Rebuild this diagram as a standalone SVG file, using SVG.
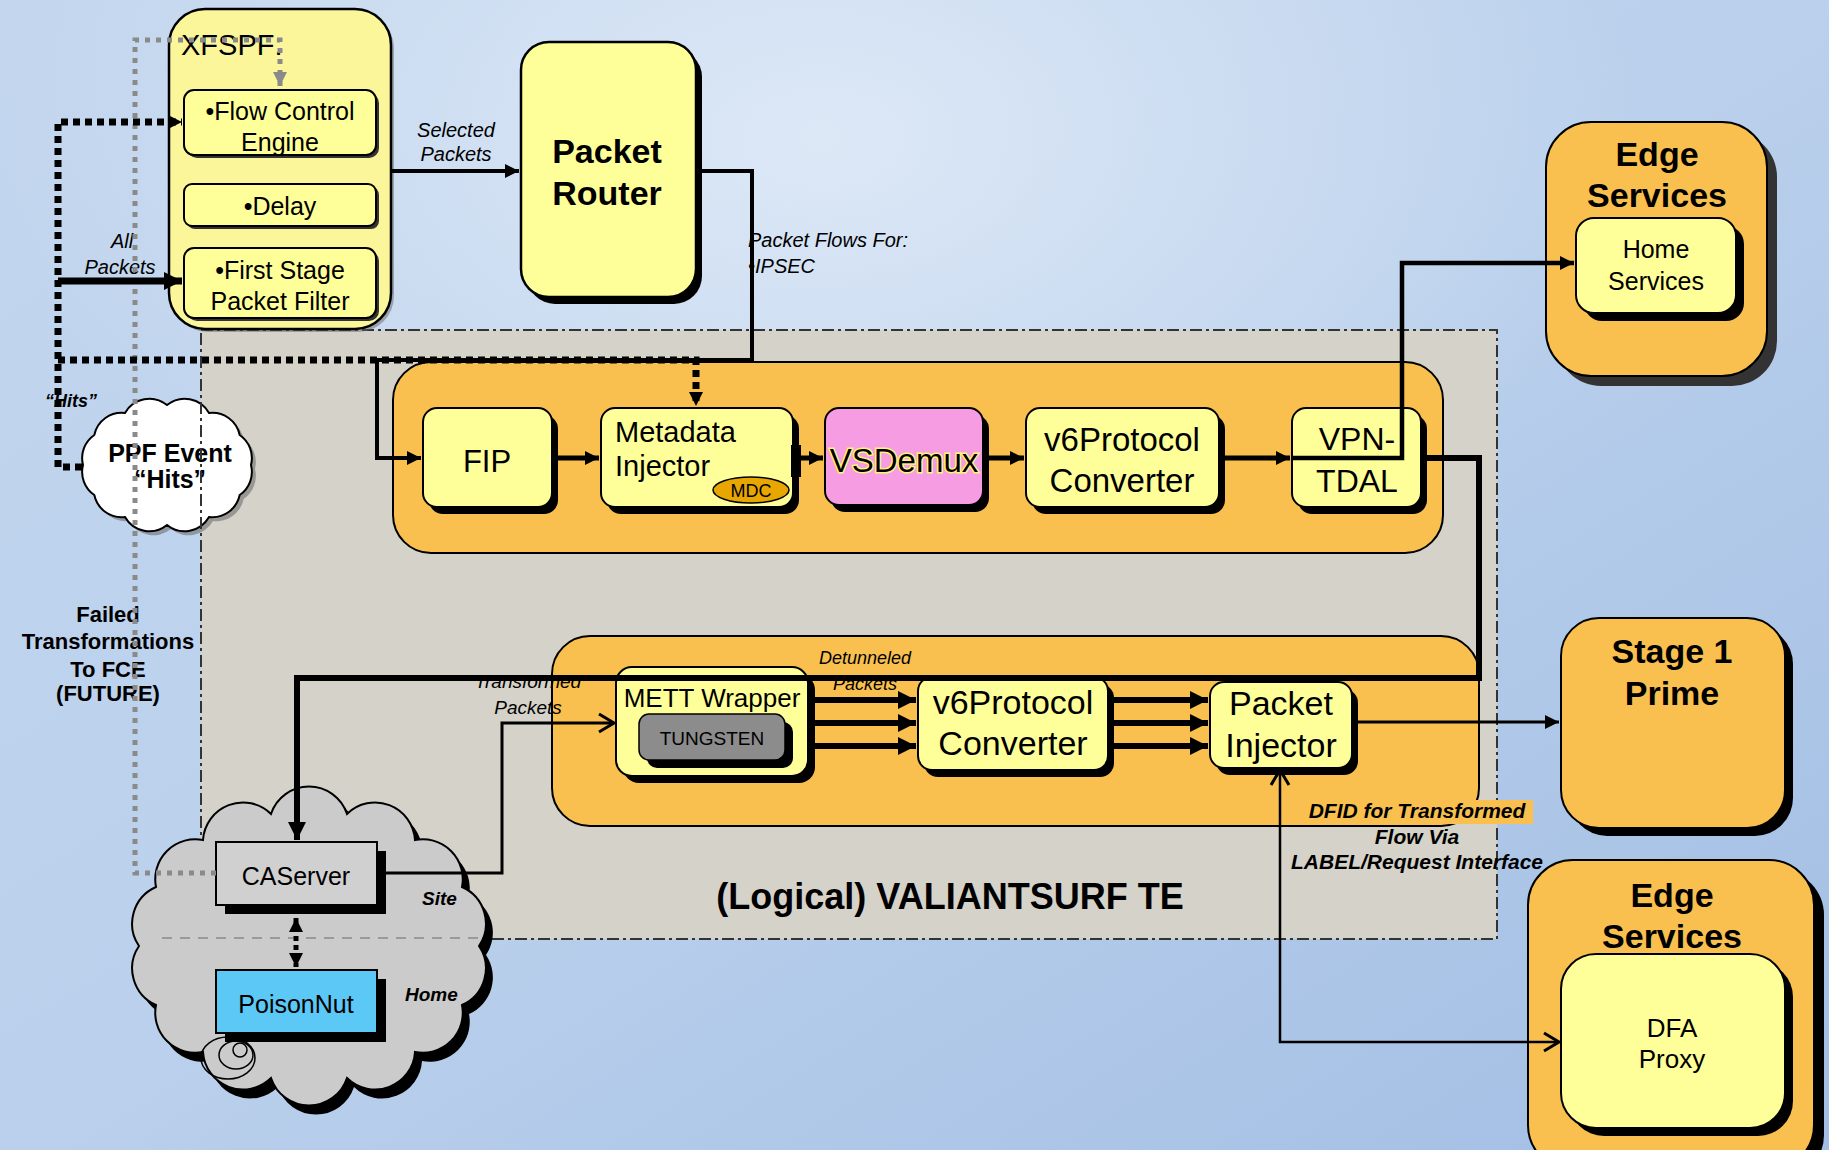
<svg xmlns="http://www.w3.org/2000/svg" width="1829" height="1150" viewBox="0 0 1829 1150">
<defs>
  <linearGradient id="bg" x1="0" y1="0" x2="1" y2="1">
    <stop offset="0" stop-color="#c3d6ee"/>
    <stop offset="0.5" stop-color="#bad0ec"/>
    <stop offset="1" stop-color="#a2bee4"/>
  </linearGradient>
  <radialGradient id="glow" cx="0.45" cy="0.12" r="0.45">
    <stop offset="0" stop-color="#e2ecf8" stop-opacity="0.85"/>
    <stop offset="1" stop-color="#e2ecf8" stop-opacity="0"/>
  </radialGradient>
  <marker id="ah" markerUnits="userSpaceOnUse" markerWidth="16" markerHeight="16" refX="14" refY="8" orient="auto">
    <path d="M0,1 L14,8 L0,15 Z" fill="#000"/>
  </marker>
  <marker id="ahL" markerUnits="userSpaceOnUse" markerWidth="20" markerHeight="20" refX="18" refY="10" orient="auto">
    <path d="M0,1 L18,10 L0,19 Z" fill="#000"/>
  </marker>
  <marker id="ahG" markerUnits="userSpaceOnUse" markerWidth="16" markerHeight="16" refX="14" refY="8" orient="auto">
    <path d="M0,1 L14,8 L0,15 Z" fill="#8a8a8a"/>
  </marker>
  <marker id="ahD" markerUnits="userSpaceOnUse" markerWidth="16" markerHeight="16" refX="14" refY="8" orient="auto-start-reverse">
    <path d="M0,1 L14,8 L0,15 Z" fill="#000"/>
  </marker>
  <marker id="chev" markerUnits="userSpaceOnUse" markerWidth="22" markerHeight="22" refX="18" refY="11" orient="auto-start-reverse">
    <path d="M3,2 L18,11 L3,20" fill="none" stroke="#000" stroke-width="3"/>
  </marker>
  <style>
    .t{font-family:"Liberation Sans",Arial,sans-serif;fill:#000}
    .b{font-weight:bold}
    .i{font-style:italic}
    .m{text-anchor:middle}
    .yel{fill:#ffff99;stroke:#000;stroke-width:2}
    .org{fill:#f9c04f;stroke:#000;stroke-width:2}
    .sh{fill:#000}
    .ln{fill:none;stroke:#000;stroke-linejoin:miter}
    .gray{fill:none;stroke:#8a8a8a;stroke-width:5;stroke-dasharray:5,6}
    .dot{stroke-width:7;stroke-dasharray:7,5}
  </style>
</defs>

<!-- background -->
<rect x="0" y="0" width="1829" height="1150" fill="url(#bg)"/>
<rect x="0" y="0" width="1829" height="1150" fill="url(#glow)"/>
<rect x="201" y="330" width="1296" height="609" fill="#d5d2c9"/>

<!-- PPF cloud -->
<g id="ppf-cloud">
  <path transform="translate(4,4)" fill="#6f6f6f" opacity="0.6" d="M251,465 A28,28 0 0 1 239.7,495 A28,28 0 0 1 209,517 A28,28 0 0 1 167,525 A28,28 0 0 1 125,517 A28,28 0 0 1 94.3,495 A28,28 0 0 1 83,465 A28,28 0 0 1 94.3,435 A28,28 0 0 1 125,413 A28,28 0 0 1 167,405 A28,28 0 0 1 209,413 A28,28 0 0 1 239.7,435 A28,28 0 0 1 251,465 Z"/>
  <path fill="#fff" stroke="#000" stroke-width="2" d="M251,465 A28,28 0 0 1 239.7,495 A28,28 0 0 1 209,517 A28,28 0 0 1 167,525 A28,28 0 0 1 125,517 A28,28 0 0 1 94.3,495 A28,28 0 0 1 83,465 A28,28 0 0 1 94.3,435 A28,28 0 0 1 125,413 A28,28 0 0 1 167,405 A28,28 0 0 1 209,413 A28,28 0 0 1 239.7,435 A28,28 0 0 1 251,465 Z"/>
  <text class="t b m" x="170" y="462" font-size="25">PPF Event</text>
  <text class="t b m" x="170" y="488" font-size="25">“Hits”</text>
</g>

<!-- logical boundary -->
<rect x="201" y="330" width="1296" height="609" fill="none" stroke="#333" stroke-width="2" stroke-dasharray="12,4,3,4"/>

<!-- XFSPF -->
<g id="xfspf">
  <rect x="172" y="12" width="222" height="320" rx="36" fill="#666" opacity="0.5"/>
  <rect x="169" y="9" width="222" height="320" rx="36" fill="#fbf69a" stroke="#000" stroke-width="2.5"/>
  <text class="t" x="181" y="55" font-size="29">XFSPF:</text>
  <g id="fce">
    <rect x="187" y="93" width="192" height="65" rx="10" fill="#333"/>
    <rect x="184" y="90" width="192" height="65" rx="10" class="yel"/>
    <text class="t m" x="280" y="120" font-size="25">•Flow Control</text>
    <text class="t m" x="280" y="151" font-size="25">Engine</text>
  </g>
  <g id="delay">
    <rect x="187" y="187" width="192" height="42" rx="8" fill="#333"/>
    <rect x="184" y="184" width="192" height="42" rx="8" class="yel"/>
    <text class="t m" x="280" y="215" font-size="25">•Delay</text>
  </g>
  <g id="fspf">
    <rect x="187" y="251" width="192" height="70" rx="10" fill="#333"/>
    <rect x="184" y="248" width="192" height="70" rx="10" class="yel"/>
    <text class="t m" x="280" y="279" font-size="25">•First Stage</text>
    <text class="t m" x="280" y="310" font-size="25">Packet Filter</text>
  </g>
</g>

<!-- Packet Router -->
<g id="packet-router">
  <rect x="527" y="49" width="175" height="255" rx="28" class="sh"/>
  <rect x="521" y="42" width="175" height="255" rx="28" fill="#ffff99" stroke="#000" stroke-width="2.5"/>
  <text class="t b m" x="607" y="163" font-size="34">Packet</text>
  <text class="t b m" x="607" y="205" font-size="34">Router</text>
</g>

<!-- Top orange container -->
<g id="te-top">
  <rect x="393" y="362" width="1050" height="191" rx="38" class="org"/>
  <g id="fip">
    <rect x="429" y="415" width="129" height="99" rx="14" class="sh"/>
    <rect x="423" y="408" width="129" height="99" rx="14" class="yel"/>
    <text class="t m" x="487" y="472" font-size="31">FIP</text>
  </g>
  <g id="metadata-injector">
    <rect x="607" y="415" width="192" height="99" rx="14" class="sh"/>
    <rect x="601" y="408" width="192" height="99" rx="14" class="yel"/>
    <text class="t" x="615" y="442" font-size="29">Metadata</text>
    <text class="t" x="615" y="476" font-size="29">Injector</text>
    <ellipse cx="751" cy="490" rx="38" ry="13" fill="#e8a600" stroke="#000" stroke-width="1.5"/>
    <text class="t m" x="751" y="497" font-size="18" fill="#222">MDC</text>
  </g>
  <g id="vsdemux">
    <rect x="831" y="415" width="158" height="97" rx="14" class="sh"/>
    <rect x="825" y="408" width="158" height="97" rx="14" fill="#f59ce2" stroke="#000" stroke-width="2"/>
    <text class="t m" x="904" y="472" font-size="33" stroke="#fff27a" stroke-width="3" paint-order="stroke">VSDemux</text>
  </g>
  <g id="v6-top">
    <rect x="1032" y="415" width="193" height="99" rx="14" class="sh"/>
    <rect x="1026" y="408" width="193" height="99" rx="14" class="yel"/>
    <text class="t m" x="1122" y="451" font-size="33">v6Protocol</text>
    <text class="t m" x="1122" y="492" font-size="33">Converter</text>
  </g>
  <g id="vpn-tdal">
    <rect x="1298" y="415" width="129" height="99" rx="14" class="sh"/>
    <rect x="1292" y="408" width="129" height="99" rx="14" class="yel"/>
    <text class="t m" x="1357" y="450" font-size="32">VPN-</text>
    <text class="t m" x="1357" y="492" font-size="32">TDAL</text>
  </g>
</g>

<!-- Bottom orange container -->
<g id="te-bottom">
  <rect x="552" y="636" width="927" height="190" rx="38" class="org"/>
  <g id="mett-wrapper">
    <rect x="623" y="674" width="192" height="109" rx="16" class="sh"/>
    <rect x="616" y="667" width="192" height="109" rx="16" class="yel"/>
    <text class="t m" x="712" y="707" font-size="26">METT Wrapper</text>
    <rect x="647" y="722" width="146" height="46" rx="10" class="sh"/>
    <rect x="639" y="714" width="146" height="46" rx="10" fill="#8c8c8c" stroke="#000" stroke-width="1.5"/>
    <text class="t m" x="712" y="745" font-size="19" fill="#333">TUNGSTEN</text>
  </g>
  <g id="v6-bottom">
    <rect x="924" y="684" width="190" height="93" rx="14" class="sh"/>
    <rect x="918" y="677" width="190" height="93" rx="14" class="yel"/>
    <text class="t m" x="1013" y="714" font-size="34">v6Protocol</text>
    <text class="t m" x="1013" y="755" font-size="34">Converter</text>
  </g>
  <g id="packet-injector">
    <rect x="1216" y="689" width="142" height="86" rx="14" class="sh"/>
    <rect x="1210" y="682" width="142" height="86" rx="14" class="yel"/>
    <text class="t m" x="1281" y="715" font-size="34">Packet</text>
    <text class="t m" x="1281" y="757" font-size="34">Injector</text>
  </g>
</g>

<!-- Site / Home cloud -->
<g id="site-cloud">
  <path transform="translate(7,9)" fill="#000" d="M479,946 A40,40 0 0 1 462,1005 A40,40 0 0 1 415,1052 A40,40 0 0 1 347,1078 A40,40 0 0 1 271,1078 A40,40 0 0 1 203,1052 A40,40 0 0 1 156,1005 A40,40 0 0 1 139,946 A40,40 0 0 1 156,887 A40,40 0 0 1 203,840 A40,40 0 0 1 271,814 A40,40 0 0 1 347,814 A40,40 0 0 1 415,840 A40,40 0 0 1 462,887 A40,40 0 0 1 479,946 Z"/>
  <path fill="#cbcbcb" stroke="#000" stroke-width="2" d="M479,946 A40,40 0 0 1 462,1005 A40,40 0 0 1 415,1052 A40,40 0 0 1 347,1078 A40,40 0 0 1 271,1078 A40,40 0 0 1 203,1052 A40,40 0 0 1 156,1005 A40,40 0 0 1 139,946 A40,40 0 0 1 156,887 A40,40 0 0 1 203,840 A40,40 0 0 1 271,814 A40,40 0 0 1 347,814 A40,40 0 0 1 415,840 A40,40 0 0 1 462,887 A40,40 0 0 1 479,946 Z"/>
  <line x1="162" y1="938" x2="478" y2="938" stroke="#9a9a9a" stroke-width="2" stroke-dasharray="10,8"/>
  <ellipse cx="228" cy="1058" rx="27" ry="21" fill="none" stroke="#000" stroke-width="1.5"/>
  <ellipse cx="236" cy="1055" rx="17" ry="14" fill="none" stroke="#000" stroke-width="1.5"/>
  <circle cx="240" cy="1050" r="7" fill="none" stroke="#000" stroke-width="1.5"/>
  <text class="t b i" x="422" y="905" font-size="19">Site</text>
  <text class="t b i" x="405" y="1001" font-size="19">Home</text>
  <g id="caserver">
    <rect x="225" y="851" width="161" height="63" class="sh"/>
    <rect x="216" y="842" width="161" height="63" fill="#d0d0d0" stroke="#000" stroke-width="2"/>
    <text class="t m" x="296" y="885" font-size="25" fill="#333">CAServer</text>
  </g>
  <g id="poisonnut">
    <rect x="225" y="979" width="161" height="63" class="sh"/>
    <rect x="216" y="970" width="161" height="63" fill="#5cc8f6" stroke="#000" stroke-width="2"/>
    <text class="t m" x="296" y="1013" font-size="25" fill="#222">PoisonNut</text>
  </g>
</g>

<!-- Right side nodes -->
<g id="edge-services-top">
  <rect x="1556" y="132" width="221" height="254" rx="45" fill="#333"/>
  <rect x="1546" y="122" width="221" height="254" rx="45" class="org"/>
  <text class="t b m" x="1657" y="166" font-size="34">Edge</text>
  <text class="t b m" x="1657" y="207" font-size="34">Services</text>
  <g id="home-services">
    <rect x="1584" y="226" width="160" height="95" rx="18" class="sh"/>
    <rect x="1576" y="218" width="160" height="95" rx="18" class="yel"/>
    <text class="t m" x="1656" y="258" font-size="25">Home</text>
    <text class="t m" x="1656" y="290" font-size="25">Services</text>
  </g>
</g>
<g id="stage1-prime">
  <rect x="1569" y="626" width="224" height="210" rx="38" class="sh"/>
  <rect x="1561" y="618" width="224" height="210" rx="38" class="org"/>
  <text class="t b m" x="1672" y="663" font-size="34">Stage 1</text>
  <text class="t b m" x="1672" y="705" font-size="34">Prime</text>
</g>
<g id="edge-services-bottom">
  <rect x="1538" y="870" width="286" height="310" rx="45" class="sh"/>
  <rect x="1528" y="860" width="286" height="310" rx="45" class="org"/>
  <text class="t b m" x="1672" y="907" font-size="34">Edge</text>
  <text class="t b m" x="1672" y="948" font-size="34">Services</text>
  <g id="dfa-proxy">
    <rect x="1569" y="962" width="224" height="174" rx="35" class="sh"/>
    <rect x="1561" y="954" width="224" height="174" rx="35" class="yel"/>
    <text class="t m" x="1672" y="1037" font-size="26">DFA</text>
    <text class="t m" x="1672" y="1068" font-size="26">Proxy</text>
  </g>
</g>

<!-- labels -->
<g id="labels">
  <text class="t i m" x="456" y="137" font-size="20">Selected</text>
  <text class="t i m" x="456" y="161" font-size="20">Packets</text>
  <text class="t i m" x="122" y="248" font-size="20">All</text>
  <text class="t i m" x="120" y="274" font-size="20">Packets</text>
  <text class="t i" x="748" y="247" font-size="20">Packet  Flows For:</text>
  <text class="t i" x="748" y="273" font-size="20">•IPSEC</text>
  <text class="t b i" x="45" y="407" font-size="18">“Hits”</text>
  <text class="t b m" x="108" y="622" font-size="22">Failed</text>
  <text class="t b m" x="108" y="649" font-size="22">Transformations</text>
  <text class="t b m" x="108" y="677" font-size="22">To FCE</text>
  <text class="t b m" x="108" y="701" font-size="22">(FUTURE)</text>
  <text class="t i m" x="865" y="664" font-size="18">Detunneled</text>
  <text class="t i m" x="865" y="690" font-size="18">Packets</text>
  <text class="t i m" x="528" y="688" font-size="19">Transformed</text>
  <text class="t i m" x="528" y="714" font-size="19">Packets</text>
  <rect x="1303" y="800" width="230" height="24" fill="#f9c04f"/>
  <text class="t b i m" x="1417" y="818" font-size="21">DFID for Transformed</text>
  <text class="t b i m" x="1417" y="844" font-size="21">Flow Via</text>
  <text class="t b i m" x="1417" y="869" font-size="21">LABEL/Request Interface</text>
  <text class="t b m" x="950" y="909" font-size="36">(Logical) VALIANTSURF TE</text>
</g>

<!-- connectors -->
<g id="connectors">
  <!-- gray dotted control line -->
  <path class="gray" d="M216,873 L135,873 L135,40 L280,40 L280,86" marker-end="url(#ahG)"/>
  <!-- black dotted hits lines -->
  <path class="ln dot" d="M82,467 L58,467 L58,122 L182,122" marker-end="url(#ah)"/>
  <path class="ln dot" d="M58,360 L696,360 L696,406" marker-end="url(#ah)"/>
  <!-- all packets -->
  <path class="ln" d="M58,281 L182,281" stroke-width="7" marker-end="url(#ahL)"/>
  <!-- selected packets -->
  <path class="ln" d="M391,171 L519,171" stroke-width="4" marker-end="url(#ah)"/>
  <!-- packet router to FIP -->
  <path class="ln" d="M696,171 L752,171 L752,360 L377,360 L377,458 L421,458" stroke-width="4" marker-end="url(#ah)"/>
  <!-- top row -->
  <path class="ln" d="M552,458 L599,458" stroke-width="5" marker-end="url(#ah)"/>
  <rect x="791" y="445" width="10" height="32" fill="#000"/>
  <path class="ln" d="M801,458 L823,458" stroke-width="5" marker-end="url(#ah)"/>
  <path class="ln" d="M983,458 L1024,458" stroke-width="5" marker-end="url(#ah)"/>
  <path class="ln" d="M1219,458 L1290,458" stroke-width="5" marker-end="url(#ah)"/>
  <path class="ln" d="M1292,458 L1402,458 L1402,263 L1574,263" stroke-width="4.5" marker-end="url(#ah)"/>
  <!-- VPN-TDAL to CAServer -->
  <path class="ln" d="M1421,458 L1479,458 L1479,678 L297,678 L297,840" stroke-width="6" marker-end="url(#ahL)"/>
  <!-- CAServer to METT -->
  <path class="ln" d="M377,873 L502,873 L502,723 L614,723" stroke-width="3" marker-end="url(#chev)"/>
  <!-- METT to v6 -->
  <path class="ln" d="M808,700 L916,700" stroke-width="6" marker-end="url(#ahL)"/>
  <path class="ln" d="M808,723 L916,723" stroke-width="6" marker-end="url(#ahL)"/>
  <path class="ln" d="M808,746 L916,746" stroke-width="6" marker-end="url(#ahL)"/>
  <!-- v6 to packet injector -->
  <path class="ln" d="M1108,700 L1208,700" stroke-width="6" marker-end="url(#ahL)"/>
  <path class="ln" d="M1108,723 L1208,723" stroke-width="6" marker-end="url(#ahL)"/>
  <path class="ln" d="M1108,746 L1208,746" stroke-width="6" marker-end="url(#ahL)"/>
  <!-- packet injector to stage 1 -->
  <path class="ln" d="M1352,722 L1559,722" stroke-width="3" marker-end="url(#ah)"/>
  <!-- DFID -->
  <path class="ln" d="M1280,770 L1280,1042 L1559,1042" stroke-width="2.5" marker-start="url(#chev)" marker-end="url(#chev)"/>
  <!-- CAServer <-> PoisonNut -->
  <path class="ln" d="M296,918 L296,967" stroke-width="5" stroke-dasharray="5,4" marker-start="url(#ahD)" marker-end="url(#ahD)"/>
</g>
</svg>
